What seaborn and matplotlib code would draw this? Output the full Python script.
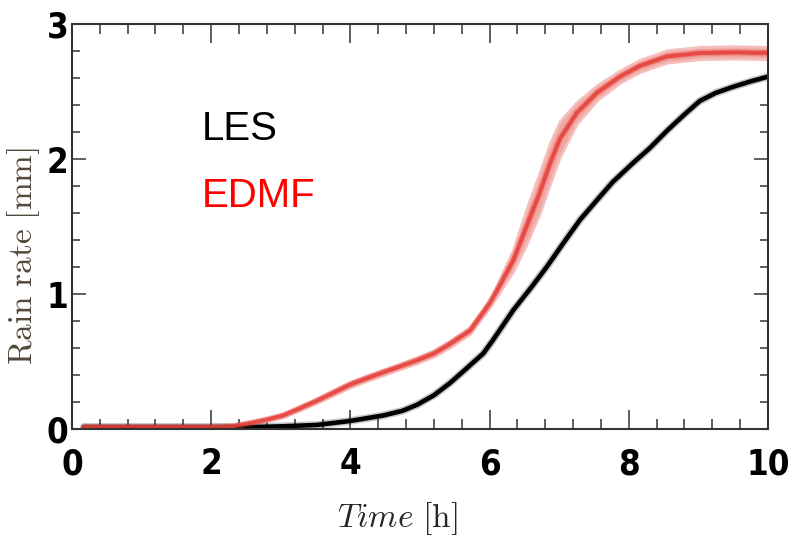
import matplotlib
matplotlib.use("Agg")
import matplotlib.pyplot as plt
from matplotlib.ticker import MultipleLocator
from matplotlib import font_manager
import seaborn as sns
import numpy as np

# Accumulated rain over time: LES reference and EDMF scheme (with spread band)
les_time = [0.17, 1.0, 2.0, 2.6, 3.03, 3.52, 4.0, 4.47, 4.75, 4.96, 5.2,
            5.43, 5.65, 5.91, 6.05, 6.34, 6.6, 6.82, 7.05, 7.30, 7.55, 7.77,
            8.06, 8.3, 8.55, 8.8, 9.02, 9.25, 9.5, 9.75, 10.0]
les_rain = [0.015, 0.015, 0.015, 0.015, 0.02, 0.03, 0.06, 0.10, 0.135, 0.18,
            0.25, 0.34, 0.44, 0.56, 0.66, 0.88, 1.05, 1.20, 1.37, 1.55, 1.70,
            1.83, 1.97, 2.08, 2.21, 2.33, 2.43, 2.49, 2.535, 2.575, 2.61]

edmf_time = [0.17, 1.0, 2.0, 2.3, 2.56, 2.8, 3.03, 3.28, 3.52, 3.76, 4.0,
             4.23, 4.47, 4.72, 4.96, 5.2, 5.43, 5.72, 5.86, 6.0, 6.10, 6.34,
             6.53, 6.72, 6.87, 7.01, 7.25, 7.54, 7.87, 8.16, 8.55, 9.02, 9.5,
             10.0]
edmf_rain = [0.015, 0.015, 0.015, 0.02, 0.044, 0.07, 0.10, 0.155, 0.21, 0.27,
             0.33, 0.375, 0.42, 0.465, 0.51, 0.56, 0.63, 0.73, 0.83, 0.93,
             1.02, 1.25, 1.50, 1.75, 1.97, 2.15, 2.34, 2.49, 2.61, 2.69, 2.76,
             2.785, 2.79, 2.785]
edmf_spread = [0.004, 0.004, 0.004, 0.005, 0.008, 0.01, 0.012, 0.014, 0.016,
               0.018, 0.02, 0.02, 0.02, 0.02, 0.022, 0.022, 0.024, 0.025,
               0.025, 0.03, 0.04, 0.08, 0.13, 0.15, 0.15, 0.13, 0.08, 0.055,
               0.045, 0.045, 0.045, 0.045, 0.045, 0.045]

x_ticks = [0, 2, 4, 6, 8, 10]
y_ticks = [0, 1, 2, 3]
series_names = ["LES", "EDMF"]
series_colors = ["#000000", "#ff0000"]

sns.set_theme(style="ticks")
plt.rcParams["mathtext.fontset"] = "cm"


def condensed_bold():
    """Find an installed bold narrow/condensed sans face, if any."""
    entries = font_manager.fontManager.ttflist
    prefs = ["Liberation Sans Narrow", "DejaVu Sans", "Roboto Condensed",
             "Roboto", "Open Sans Condensed", "Open Sans", "Noto Sans"]
    for fam in prefs:
        for f in entries:
            w = f.weight if isinstance(f.weight, int) else 400
            if f.weight == "bold":
                w = 700
            narrowish = ("Narrow" in f.name or "Condensed" in f.name
                         or "ondensed" in str(f.stretch)
                         or "Condensed" in f.fname or "Narrow" in f.fname)
            if f.name.startswith(fam.split()[0]) and fam.split()[-1] in f.name + " " + fam \
                    and narrowish and w >= 600 and "talic" not in f.fname \
                    and "blique" not in f.fname:
                return font_manager.FontProperties(fname=f.fname)
    return None


narrow_fp = condensed_bold()

fig = plt.figure(figsize=(7.97, 5.41), dpi=100)
ax = fig.add_axes([0.0903, 0.207, 0.8733, 0.7486])

# LES line with a soft halo
sns.lineplot(x=les_time, y=les_rain, ax=ax, color="black", lw=5.6, alpha=0.22)
sns.lineplot(x=les_time, y=les_rain, ax=ax, color="black", lw=3.3)

# EDMF spread band and mean line
lo = np.array(edmf_rain) - np.array(edmf_spread)
hi = np.array(edmf_rain) + np.array(edmf_spread)
ax.fill_between(edmf_time, lo, hi, color="#f09c98", alpha=0.9, lw=2.2,
                edgecolor="#f5bcb9")
sns.lineplot(x=edmf_time, y=edmf_rain, ax=ax, color="#ea4f47", lw=4.6, alpha=0.35)
sns.lineplot(x=edmf_time, y=edmf_rain, ax=ax, color="#e6403a", lw=2.8, alpha=0.85)

ax.set_xlim(0, 10)
ax.set_ylim(0, 3)

ax.set_xticks(x_ticks, [str(v) for v in x_ticks])
ax.set_yticks(y_ticks, [str(v) for v in y_ticks])
ax.xaxis.set_minor_locator(MultipleLocator(0.4))
ax.yaxis.set_minor_locator(MultipleLocator(0.2))

frame = "#333333"
for s in ax.spines.values():
    s.set_color(frame)
    s.set_linewidth(1.5)

ax.tick_params(axis="x", which="major", direction="in", top=True, bottom=True,
               length=14, width=1.1, color=frame, pad=13, labelcolor="black")
ax.tick_params(axis="x", which="minor", direction="in", top=True, bottom=True,
               length=7, width=1.1, color=frame)
ax.tick_params(axis="y", which="major", direction="in", left=True, right=True,
               length=10, width=1.1, color=frame, pad=2.5, labelcolor="black")
ax.tick_params(axis="y", which="minor", direction="in", left=True, right=True,
               length=5.8, width=1.1, color=frame)

for lab in ax.get_xticklabels():
    if narrow_fp is not None:
        lab.set_fontproperties(narrow_fp)
        lab.set_fontsize(25)
    else:
        lab.set_fontfamily("Liberation Sans")
        lab.set_fontweight("bold")
        lab.set_fontsize(22)
for lab in ax.get_yticklabels():
    if narrow_fp is not None:
        lab.set_fontproperties(narrow_fp)
        lab.set_fontsize(25)
    else:
        lab.set_fontfamily("Liberation Sans")
        lab.set_fontweight("bold")
        lab.set_fontsize(23)

ax.set_ylabel(r"$\mathrm{Rain\ rate\ [mm]}$", fontsize=24, color="#52473b",
              va="center")
ax.yaxis.set_label_coords(-0.07, 0.427)
ax.set_xlabel(r"$Time\ \mathrm{[h]}$", fontsize=24, color="#262626",
              va="center")
ax.xaxis.set_label_coords(0.467, -0.222)

ax.text(0.187, 0.714, series_names[0], transform=ax.transAxes, fontsize=29,
        color=series_colors[0], family="Liberation Sans", va="baseline")
ax.text(0.187, 0.548, series_names[1], transform=ax.transAxes, fontsize=29,
        color=series_colors[1], family="Liberation Sans", va="baseline")

fig.savefig("out.png", dpi=100)
